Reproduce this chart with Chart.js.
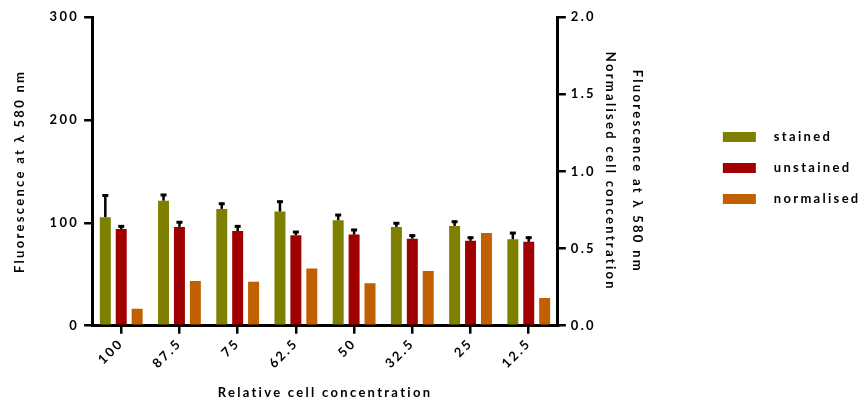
<!DOCTYPE html>
<html>
<head>
<meta charset="utf-8">
<script src="https://cdn.jsdelivr.net/npm/chart.js@4"></script>
<style>
  body { margin: 0; background: #fff; }
  #wrap { width: 868px; height: 403px; }
  #grafico { letter-spacing: 2.3px; }
</style>
</head>
<body>
<div id="wrap"><canvas id="grafico"></canvas></div>
<script>
const categories = ['100', '87.5', '75', '62.5', '50', '32.5', '25', '12.5']
const stained = [105.5, 121.5, 113.5, 111, 102.5, 96, 97, 84]
const stainedErr = [22, 6.5, 6, 10.5, 6, 4.5, 5, 7]
const unstained = [94, 96, 92, 88, 88.5, 84.5, 82.5, 81.5]
const unstainedErr = [3.5, 5.5, 5.5, 4, 5.5, 4, 4, 5]
const normalised = [0.11, 0.29, 0.285, 0.37, 0.275, 0.355, 0.6, 0.18]
const leftTicks = [0, 100, 200, 300]
const rightTicks = [0, 0.5, 1, 1.5, 2]

const fonte = 'Lato'
const letra = { family: fonte, weight: 'bold', size: 13 }

// espacamento entre letras, como no original
function espacar(chart) {
    if ('letterSpacing' in chart.ctx) chart.ctx.letterSpacing = '2.3px'
}
const espacamento = {
    id: 'espacamento',
    beforeInit: espacar,
    beforeUpdate: espacar,
    beforeLayout: espacar,
    afterLayout: espacar,
    beforeDraw: espacar,
    beforeDatasetsDraw: espacar,
    resize: espacar
}

// barras de erro (so para cima)
const barrasErro = {
    id: 'barrasErro',
    afterDatasetsDraw(chart) {
        const ctx = chart.ctx
        const y = chart.scales.y
        const erros = [stainedErr, unstainedErr]
        ctx.save()
        ctx.strokeStyle = '#000'
        erros.forEach(function (err, i) {
            const meta = chart.getDatasetMeta(i)
            meta.data.forEach(function (bar, j) {
                const topo = y.getPixelForValue(chart.data.datasets[i].data[j] + err[j])
                ctx.lineWidth = 2.5
                ctx.beginPath()
                ctx.moveTo(bar.x, bar.y)
                ctx.lineTo(bar.x, topo)
                ctx.stroke()
                ctx.lineWidth = 3
                ctx.beginPath()
                ctx.moveTo(bar.x - 3, topo + 1)
                ctx.lineTo(bar.x + 3, topo + 1)
                ctx.stroke()
            })
        })
        ctx.restore()
    }
}

// legenda desenhada a direita do grafico
const legenda = {
    id: 'legenda',
    afterDraw(chart) {
        const ctx = chart.ctx
        const area = chart.chartArea
        const x = area.right + 165
        ctx.save()
        ctx.font = 'bold 13px ' + fonte
        ctx.textBaseline = 'middle'
        chart.data.datasets.forEach(function (ds, i) {
            const y = area.top + 120 + i * 31
            ctx.fillStyle = ds.backgroundColor
            ctx.fillRect(x, y - 5, 33, 10)
            ctx.fillStyle = '#000'
            ctx.fillText(ds.label, x + 51, y)
        })
        ctx.restore()
    }
}

const eixoGrid = { drawOnChartArea: false, color: '#000', lineWidth: 2.5, tickLength: 8 }
const eixoBorda = { display: true, color: '#000', width: 3 }

new Chart(document.getElementById('grafico'), {
    type: 'bar',
    plugins: [espacamento, barrasErro, legenda],
    data: {
        labels: categories,
        datasets: [{
            label: 'stained',
            data: stained,
            backgroundColor: '#808000',
            yAxisID: 'y'
        }, {
            label: 'unstained',
            data: unstained,
            backgroundColor: '#a00000',
            yAxisID: 'y'
        }, {
            label: 'normalised',
            data: normalised,
            backgroundColor: '#c06000',
            yAxisID: 'y2'
        }]
    },
    options: {
        responsive: true,
        maintainAspectRatio: false,
        animation: false,
        categoryPercentage: 0.82,
        barPercentage: 0.69,
        layout: { padding: { top: 17, left: 12, right: 217, bottom: 2 } },
        plugins: {
            legend: { display: false },
            tooltip: { enabled: false }
        },
        scales: {
            x: {
                grid: { drawOnChartArea: false, offset: false, color: '#000', lineWidth: 2.5, tickLength: 8 },
                border: eixoBorda,
                ticks: { color: '#000', font: letra, maxRotation: 45, minRotation: 45, padding: 2 },
                title: {
                    display: true,
                    text: 'Relative cell concentration',
                    color: '#000',
                    font: letra,
                    padding: { top: 12, bottom: 0 }
                }
            },
            y: {
                position: 'left',
                min: 0,
                max: 300,
                afterBuildTicks: function (scale) { scale.ticks = leftTicks.map(v => ({ value: v })) },
                grid: eixoGrid,
                border: eixoBorda,
                ticks: { color: '#000', font: letra, padding: 5 },
                title: {
                    display: true,
                    text: 'Fluorescence at λ 580 nm',
                    color: '#000',
                    font: letra,
                    padding: { top: 0, bottom: 17 }
                }
            },
            y2: {
                position: 'right',
                min: 0,
                max: 2,
                afterBuildTicks: function (scale) { scale.ticks = rightTicks.map(v => ({ value: v })) },
                grid: eixoGrid,
                border: eixoBorda,
                ticks: { color: '#000', font: letra, padding: 5, callback: v => v.toFixed(1) },
                title: {
                    display: true,
                    text: ['Fluorescence at λ 580 nm', 'Normalised cell concentration'],
                    color: '#000',
                    font: { family: fonte, weight: 'bold', size: 13, lineHeight: 2.08 },
                    padding: { top: 0, bottom: -4 }
                }
            }
        }
    }
})
</script>
</body>
</html>
